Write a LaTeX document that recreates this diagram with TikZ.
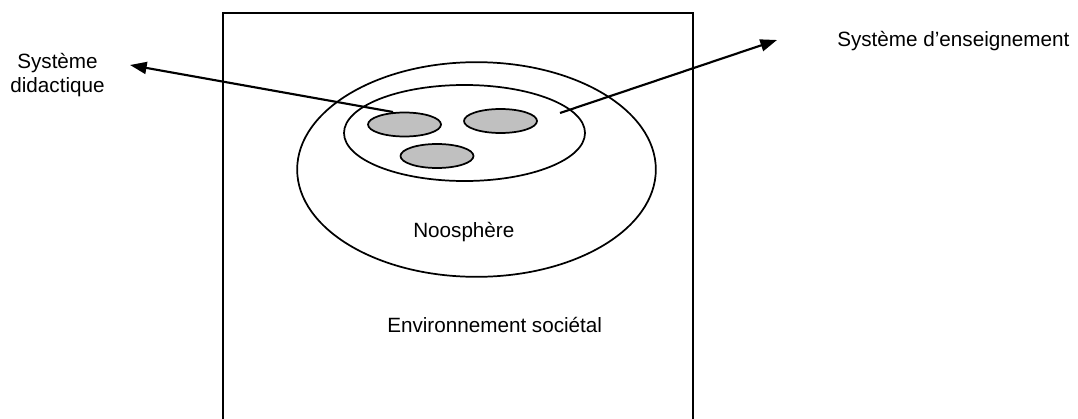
\documentclass[tikz,border=0pt]{standalone}
\usepackage{fontspec}
\setmainfont{Liberation Sans}
\usetikzlibrary{shapes.geometric,arrows.meta}
\definecolor{cellgray}{RGB}{192,192,192}
\tikzset{
  ell/.style={ellipse, draw, line width=1.3pt, inner sep=0pt},
  cell/.style={ell, fill=cellgray, minimum width=54.75pt, minimum height=18pt},
  lab/.style={font=\fontsize{15.5}{18}\selectfont, inner sep=0pt, align=center},
  pointer/.style={line width=1.6pt, -{Triangle[length=12.5pt,width=9pt]}}
}
\begin{document}
\begin{tikzpicture}[x=0.75pt,y=-0.75pt]
\useasboundingbox (0,0) rectangle (1078,418);
% box (bottom edge outside picture)
\draw[line width=1.3pt] (223,420) -- (223,13) -- (693,13) -- (693,420);
% ellipses
\node[ell, minimum width=269pt, minimum height=161pt] (noo) at (476.5,169.5) {};
\node[ell, minimum width=180.75pt, minimum height=72pt] (sys) at (464.5,133) {};
\node[cell] (c1) at (404.5,124.5) {};
\node[cell] (c2) at (500.5,121) {};
\node[cell] (c3) at (437,156) {};
% labels
\node[lab, anchor=base west] (lnoo) at (413,237) {Noosphère};
\node[lab, anchor=base west] (lenv) at (387,332) {Environnement sociétal};
\node[lab] (ldid) at (57.5,75) {Système\\didactique};
\node[lab, anchor=base west] (lens) at (837,46) {Système d’enseignement};
% arrows
\coordinate (s1) at (393,112);
\coordinate (t1) at (130,65);
\coordinate (s2) at (560,113);
\coordinate (t2) at (777,40);
\draw[pointer] (s1) -- (t1);
\draw[pointer] (s2) -- (t2);
\end{tikzpicture}
\end{document}
